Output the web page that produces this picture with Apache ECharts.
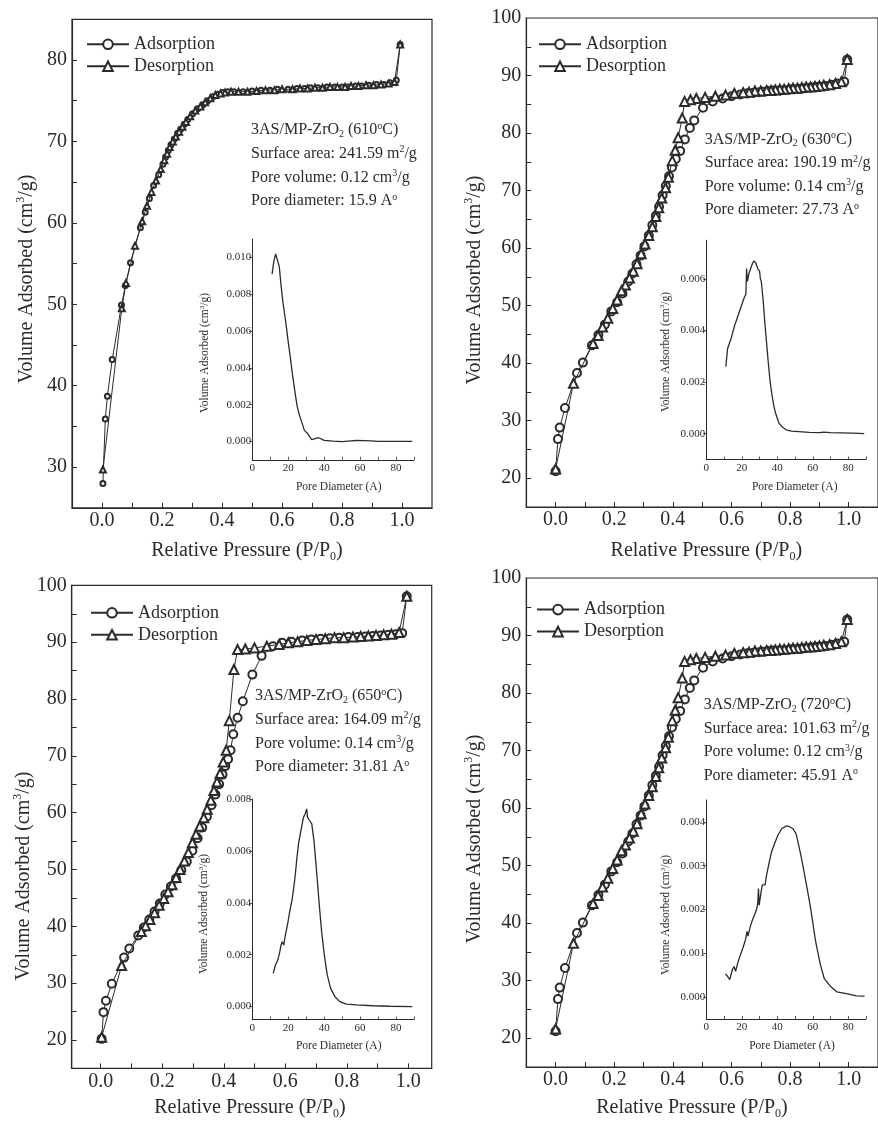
<!DOCTYPE html>
<html><head><meta charset="utf-8">
<script src="https://cdn.jsdelivr.net/npm/echarts/dist/echarts.min.js"></script>
<style>html,body{margin:0;padding:0;background:#fff}#c{width:878px;height:1121px}</style>
</head><body><div id="c"></div>
<script>
// ---------------- DATA ----------------
const ads610 = [[0.003,28.0],[0.011,35.9],[0.018,38.7],[0.034,43.2],[0.065,49.9],[0.078,52.3],[0.095,55.1],[0.128,59.4],[0.144,61.3],[0.158,63.0],[0.172,64.6],[0.189,65.9],[0.203,67.2],[0.212,68.1],[0.221,68.9],[0.23,69.6],[0.241,70.3],[0.252,71.0],[0.262,71.5],[0.274,72.1],[0.286,72.7],[0.302,73.4],[0.319,74.0],[0.336,74.5],[0.352,75.0],[0.369,75.5],[0.385,75.8],[0.402,76.0],[0.42,76.1],[0.44,76.1],[0.47,76.1],[0.5,76.2],[0.53,76.3],[0.56,76.3],[0.585,76.4],[0.62,76.4],[0.65,76.5],[0.675,76.5],[0.695,76.6],[0.72,76.6],[0.75,76.7],[0.775,76.7],[0.8,76.7],[0.82,76.7],[0.845,76.8],[0.865,76.8],[0.89,76.9],[0.915,77.0],[0.94,77.0],[0.96,77.2],[0.981,77.5],[0.994,81.9]];
const des610 = [[0.994,81.9],[0.975,77.3],[0.955,77.1],[0.93,77.0],[0.905,76.9],[0.88,76.9],[0.855,76.8],[0.83,76.8],[0.81,76.7],[0.785,76.7],[0.76,76.7],[0.735,76.6],[0.71,76.6],[0.685,76.5],[0.66,76.5],[0.635,76.4],[0.6,76.4],[0.575,76.3],[0.545,76.3],[0.515,76.2],[0.485,76.1],[0.455,76.1],[0.43,76.1],[0.41,76.0],[0.395,75.9],[0.378,75.7],[0.361,75.3],[0.344,74.8],[0.328,74.3],[0.311,73.8],[0.294,73.1],[0.28,72.4],[0.268,71.8],[0.257,71.2],[0.246,70.6],[0.236,70.0],[0.226,69.3],[0.217,68.5],[0.208,67.7],[0.196,66.6],[0.18,65.2],[0.165,63.8],[0.15,62.1],[0.134,60.2],[0.11,57.2],[0.08,52.6],[0.066,49.5],[0.003,29.7]];

const ads630 = [[0.000,21.2],[0.008,26.8],[0.014,28.8],[0.032,32.2],[0.073,38.3],[0.093,40.1],[0.124,43.1],[0.146,44.9],[0.168,46.7],[0.19,49.0],[0.21,50.6],[0.228,52.1],[0.248,54.2],[0.262,55.6],[0.276,57.2],[0.29,58.7],[0.303,60.3],[0.318,62.2],[0.33,64.0],[0.342,65.6],[0.353,67.2],[0.365,69.2],[0.376,70.8],[0.387,72.5],[0.397,74.0],[0.41,75.5],[0.425,76.9],[0.441,78.9],[0.458,80.9],[0.473,82.2],[0.503,84.4],[0.536,85.5],[0.57,86.0],[0.60,86.4],[0.63,86.7],[0.655,86.9],[0.675,87.0],[0.695,87.1],[0.71,87.2],[0.725,87.3],[0.745,87.4],[0.765,87.4],[0.78,87.5],[0.8,87.6],[0.815,87.6],[0.835,87.7],[0.85,87.8],[0.87,87.9],[0.885,88.0],[0.9,88.1],[0.92,88.2],[0.94,88.4],[0.96,88.6],[0.985,88.9],[0.995,92.8]];
const des630 = [[0.995,92.8],[0.975,88.9],[0.955,88.6],[0.935,88.4],[0.915,88.3],[0.9,88.2],[0.885,88.1],[0.87,88.0],[0.855,88.0],[0.84,87.9],[0.825,87.8],[0.81,87.8],[0.795,87.7],[0.78,87.6],[0.765,87.6],[0.75,87.5],[0.735,87.4],[0.72,87.4],[0.70,87.3],[0.68,87.3],[0.66,87.1],[0.64,87.0],[0.61,86.9],[0.58,86.6],[0.545,86.4],[0.51,86.2],[0.48,86.0],[0.46,85.8],[0.44,85.5],[0.432,82.6],[0.418,79.2],[0.408,77.0],[0.398,75.2],[0.385,72.3],[0.375,70.5],[0.362,68.7],[0.352,67.0],[0.342,65.5],[0.33,63.7],[0.318,62.2],[0.305,60.7],[0.292,59.0],[0.278,57.3],[0.265,56.0],[0.252,54.8],[0.238,53.6],[0.225,52.6],[0.21,51.0],[0.195,49.5],[0.178,47.8],[0.16,46.3],[0.145,44.8],[0.128,43.4],[0.061,36.5],[0.0,21.6]];

const ads650 = [[0.003,20.2],[0.009,24.9],[0.017,26.9],[0.036,29.9],[0.076,34.5],[0.093,36.1],[0.122,38.4],[0.14,39.8],[0.158,41.2],[0.175,42.6],[0.192,44.0],[0.21,45.6],[0.228,47.0],[0.245,48.4],[0.262,49.9],[0.28,51.4],[0.298,53.3],[0.315,55.5],[0.33,57.4],[0.345,59.3],[0.36,61.3],[0.373,63.2],[0.385,65.0],[0.396,66.7],[0.405,68.2],[0.414,69.4],[0.422,71.0],[0.431,73.8],[0.445,76.7],[0.462,79.6],[0.493,84.3],[0.523,87.6],[0.56,89.3],[0.59,89.9],[0.62,90.1],[0.655,90.3],[0.685,90.5],[0.715,90.6],[0.745,90.7],[0.775,90.8],[0.805,90.9],[0.835,90.9],[0.86,91.0],[0.885,91.1],[0.91,91.2],[0.935,91.3],[0.96,91.4],[0.98,91.6],[0.995,98.1]];
const des650 = [[0.995,98.1],[0.97,91.7],[0.945,91.4],[0.92,91.3],[0.895,91.2],[0.87,91.1],[0.845,91.0],[0.82,90.9],[0.79,90.8],[0.76,90.8],[0.73,90.6],[0.7,90.5],[0.67,90.3],[0.64,90.1],[0.61,89.9],[0.58,89.6],[0.54,89.3],[0.5,89.0],[0.47,88.8],[0.445,88.7],[0.433,85.2],[0.418,76.2],[0.408,71.0],[0.398,68.9],[0.388,66.9],[0.378,65.4],[0.368,63.9],[0.358,62.2],[0.346,60.6],[0.335,59.1],[0.322,57.6],[0.31,56.2],[0.298,54.7],[0.285,53.0],[0.272,51.5],[0.258,50.0],[0.245,48.6],[0.232,47.3],[0.219,46.1],[0.205,44.9],[0.19,43.7],[0.175,42.4],[0.16,41.2],[0.146,40.1],[0.132,39.1],[0.068,33.1],[0.003,20.5]];

// the 720 °C isotherm is drawn identical to the 630 °C one in the source figure
const ads720 = ads630;
const des720 = des630;

const psd610 = [[11,0.0091],[12,0.0098],[13,0.0102],[14,0.0101],[15,0.0095],[16,0.0085],[17,0.0076],[18,0.0069],[19,0.0062],[20,0.0054],[21,0.0047],[22,0.0039],[23,0.0032],[24,0.0025],[25,0.0019],[26,0.0015],[27,0.0012],[27.5,0.0013],[28,0.0009],[29,0.0006],[30,0.0005],[31,0.0004],[32,0.0003],[33,0.0001],[34,0.00012],[35,0.00015],[36,0.00018],[37,0.0002],[38,0.00015],[40,0.00006],[45,0.00002],[50,-0.00001],[55,0.00003],[58,0.00005],[62,0.00004],[66,0.00003],[70,0.0],[75,0.0],[80,0.0],[85,0.0],[89,0.0]];
const psd630 = [[11,0.0026],[12,0.0033],[14,0.0037],[16,0.0042],[18,0.0046],[20,0.0050],[21.5,0.0053],[22.3,0.0054],[22.7,0.0064],[23.2,0.0059],[24,0.0062],[25,0.0064],[26,0.0066],[27,0.0067],[28,0.0066],[29,0.0064],[30,0.0063],[30.5,0.0060],[31,0.0059],[32,0.0052],[33,0.0043],[34,0.0035],[35,0.0027],[36,0.0020],[37,0.0015],[38,0.0011],[39,0.0008],[40,0.0006],[41,0.0004],[43,0.00025],[45,0.00015],[48,0.0001],[52,0.00008],[58,0.00005],[64,0.00004],[66,0.00006],[70,0.00004],[76,0.00003],[82,0.00002],[86,0.00001],[89,0.0]];
const psd650 = [[11.6,0.00128],[12.9,0.0016],[14.2,0.00179],[15.3,0.00211],[16,0.00237],[16.7,0.0025],[17.5,0.00237],[18.4,0.00275],[19.7,0.0032],[20.8,0.00365],[22.1,0.0041],[23,0.00454],[23.9,0.00506],[24.8,0.0057],[25.7,0.00627],[26.7,0.00634],[27.6,0.00698],[28.5,0.0073],[29.4,0.00742],[30.1,0.00749],[30.3,0.00762],[30.7,0.0073],[31.6,0.0072],[33.1,0.00704],[34.4,0.00634],[35.8,0.00519],[37.3,0.0039],[38.6,0.00288],[40.1,0.00198],[41.7,0.00122],[43.6,0.0007],[46,0.00038],[48.7,0.00019],[52.4,0.00009],[57.9,0.00006],[67.1,0.00003],[76.3,0.00001],[89,0.0]];
const psd720 = [[10.7,0.00053],[11.9,0.00048],[13.2,0.0004],[14.7,0.00063],[15.6,0.0007],[16.5,0.00059],[18,0.00082],[19.3,0.00097],[20.6,0.00112],[22.1,0.00131],[23,0.0015],[23.5,0.00139],[24.8,0.00161],[26.1,0.00177],[27.6,0.00192],[28.5,0.00203],[29,0.00214],[29.4,0.00248],[29.8,0.0021],[30.9,0.00241],[31.6,0.00256],[32.2,0.0026],[33.1,0.00256],[34,0.00279],[35.3,0.00305],[36.8,0.00332],[38.6,0.00352],[40.4,0.0037],[42.6,0.00385],[45.2,0.00391],[46.9,0.00389],[48.7,0.00385],[50.6,0.00373],[53.3,0.00324],[56.1,0.00264],[58.8,0.00203],[61.6,0.00127],[64.3,0.00074],[66.5,0.00042],[69.9,0.00025],[73.5,0.00012],[79,0.00008],[84.6,0.00003],[89.2,0.00002]];

// tick / label values
const mainXLabels = [0, 0.2, 0.4, 0.6, 0.8, 1.0];
const mainXTicks = [0, 0.1, 0.2, 0.3, 0.4, 0.5, 0.6, 0.7, 0.8, 0.9, 1.0];
const y610Labels = [30, 40, 50, 60, 70, 80];
const y610Ticks = [30, 35, 40, 45, 50, 55, 60, 65, 70, 75, 80];
const yLabels = [20, 30, 40, 50, 60, 70, 80, 90, 100];
const yTicks = [20, 25, 30, 35, 40, 45, 50, 55, 60, 65, 70, 75, 80, 85, 90, 95];
const insetXLabels = [0, 20, 40, 60, 80];
const insetXTicks = [0, 10, 20, 30, 40, 50, 60, 70, 80, 90];
const inset610Y = [0, 0.002, 0.004, 0.006, 0.008, 0.010];
const inset630Y = [0, 0.002, 0.004, 0.006];
const inset650Y = [0, 0.002, 0.004, 0.006, 0.008];
const inset720Y = [0, 0.001, 0.002, 0.003, 0.004];

const seriesNames = ['Adsorption', 'Desorption'];
const notes610 = ['3AS/MP-ZrO|2| (610|o|C)', 'Surface area: 241.59 m|^2|/g', 'Pore volume: 0.12 cm|^3|/g', 'Pore diameter: 15.9 A|^o|'];
const notes630 = ['3AS/MP-ZrO|2| (630|o|C)', 'Surface area: 190.19 m|^2|/g', 'Pore volume: 0.14 cm|^3|/g', 'Pore diameter: 27.73 A|^o|'];
const notes650 = ['3AS/MP-ZrO|2| (650|o|C)', 'Surface area: 164.09 m|^2|/g', 'Pore volume: 0.14 cm|^3|/g', 'Pore diameter: 31.81 A|^o|'];
const notes720 = ['3AS/MP-ZrO|2| (720|o|C)', 'Surface area: 101.63 m|^2|/g', 'Pore volume: 0.12 cm|^3|/g', 'Pore diameter: 45.91 A|^o|'];

// ---------------- LAYOUT ----------------
const F = "'Liberation Serif','Times New Roman',serif";
const C = '#2b2b2b';

const panels = [
  {grid:{left:72,top:19.3,width:360,height:488.5}, x:[-0.1,1.1], y:[25,85], yLab:y610Labels, yTick:y610Ticks, sym:5, ads:ads610, des:des610,
   legend:[86,35.3], notes:notes610, note:[251,130,23.7], ytitle:[26.7,279], xtitle:[247,551],
   inset:{grid:{left:252.3,top:239.1,width:161.7,height:220.7}, y:[-0.001,0.011], yLab:inset610Y, data:psd610, ytitle:[205,353], xtitle:[338.7,486.5]}},
  {grid:{left:526.3,top:18,width:358.5,height:489}, x:[-0.1,1.1], y:[15,100], yLab:yLabels, yTick:yTicks, sym:8, ads:ads630, des:des630,
   legend:[538,35.3], notes:notes630, note:[704.7,139.5,23.5], ytitle:[474.7,280], xtitle:[706.3,551],
   inset:{grid:{left:706.3,top:240.2,width:159.7,height:219.3}, y:[-0.001,0.0075], yLab:inset630Y, data:psd630, ytitle:[665.5,352], xtitle:[794.7,486.5]}},
  {grid:{left:71.7,top:585.4,width:360,height:483}, x:[-0.0943,1.076], y:[15,100], yLab:yLabels, yTick:yTicks, sym:8, ads:ads650, des:des650,
   legend:[90,603.8], notes:notes650, note:[255,696,23.7], ytitle:[23.3,876], xtitle:[250,1108],
   inset:{grid:{left:252.3,top:799,width:161.7,height:220.5}, y:[-0.0005,0.008], yLab:inset650Y, data:psd650, ytitle:[204,914], xtitle:[338.7,1046]}},
  {grid:{left:526.3,top:578,width:358.5,height:489}, x:[-0.1,1.1], y:[15,100], yLab:yLabels, yTick:yTicks, sym:8, ads:ads720, des:des720,
   legend:[536,600.6], notes:notes720, note:[703.7,705,23.5], ytitle:[474.7,839], xtitle:[692,1108],
   inset:{grid:{left:706.3,top:800,width:159.7,height:219}, y:[-0.0005,0.0045], yLab:inset720Y, data:psd720, ytitle:[666,915], xtitle:[792,1046]}}
];

// "a|2|b|^3|c": |x| = subscript, |^x| or |o| = superscript
function richify(s, base) {
  const parts = s.split('|');
  let out = '';
  parts.forEach((p, i) => {
    if (!p) return;
    if (i % 2 === 0) out += '{' + base + '|' + p + '}';
    else if (p[0] === '^') out += '{sup|' + p.slice(1) + '}';
    else if (p === 'o') out += '{sup|o}';
    else out += '{sub|' + p + '}';
  });
  return out;
}
function richStyles(size) {
  const lh = Math.round(size * 1.15);
  const small = Math.round(size * 0.62);
  return {
    n: {fontSize:size, fontFamily:F, fill:C, lineHeight:lh},
    sup: {fontSize:small, fontFamily:F, fill:C, lineHeight:small, verticalAlign:'top'},
    sub: {fontSize:small, fontFamily:F, fill:C, lineHeight:small, verticalAlign:'bottom'}
  };
}

const mainGrid = [], mainX = [], mainY = [], insetGrid = [], insetX = [], insetY = [];
const series = [], legend = [], graphic = [];

panels.forEach((p, i) => {
  mainGrid.push(Object.assign({show:true, borderColor:C, borderWidth:1.2, backgroundColor:'transparent'}, p.grid));
  mainX.push({type:'value', gridIndex:i, min:p.x[0], max:p.x[1],
    axisLine:{show:true, onZero:false, lineStyle:{color:C, width:1.2}},
    axisTick:{show:true, inside:true, length:5, customValues:mainXTicks, lineStyle:{color:C, width:1}},
    axisLabel:{customValues:mainXLabels, formatter:v => v.toFixed(1), fontFamily:F, fontSize:20, color:C, margin:3},
    splitLine:{show:false}});
  mainY.push({type:'value', gridIndex:i, min:p.y[0], max:p.y[1],
    axisLine:{show:true, onZero:false, lineStyle:{color:C, width:1.2}},
    axisTick:{show:true, inside:true, length:5, customValues:p.yTick, lineStyle:{color:C, width:1}},
    axisLabel:{customValues:p.yLab, fontFamily:F, fontSize:20, color:C, margin:5},
    splitLine:{show:false}});
  series.push({type:'line', name:seriesNames[0], xAxisIndex:i, yAxisIndex:i, data:p.ads,
    symbol:'emptyCircle', symbolSize:p.sym, showAllSymbol:true, z:3,
    lineStyle:{color:C, width:1}, itemStyle:{color:C, borderWidth:1}});
  series.push({type:'line', name:seriesNames[1], xAxisIndex:i, yAxisIndex:i, data:p.des,
    symbol:'emptyTriangle', symbolSize:p.sym + 1, showAllSymbol:true, z:4,
    lineStyle:{color:C, width:1}, itemStyle:{color:C, borderWidth:1}});
  legend.push({left:p.legend[0], top:p.legend[1], orient:'vertical', selectedMode:false, padding:0,
    itemWidth:42, itemHeight:12, itemGap:4, data:seriesNames,
    itemStyle:{borderWidth:1},
    textStyle:{fontFamily:F, fontSize:18, color:C, lineHeight:18}});
  p.notes.forEach((t, k) => {
    graphic.push({type:'text', x:p.note[0], y:p.note[1] + k * p.note[2], z:10,
      style:{text:richify(t, 'n'), rich:richStyles(16), align:'left', verticalAlign:'middle'}});
  });
  graphic.push({type:'text', x:p.ytitle[0], y:p.ytitle[1], rotation:Math.PI / 2, z:10,
    style:{text:richify('Volume Adsorbed (cm|^3|/g)', 'n'), rich:richStyles(20), align:'center', verticalAlign:'middle'}});
  graphic.push({type:'text', x:p.xtitle[0], y:p.xtitle[1], z:10,
    style:{text:richify('Relative Pressure (P/P|0|)', 'n'), rich:richStyles(20), align:'center', verticalAlign:'middle'}});

  // inset
  const q = p.inset, gi = 4 + i;
  insetGrid.push(Object.assign({show:false}, q.grid));
  insetX.push({type:'value', gridIndex:gi, min:0, max:90,
    axisLine:{show:true, onZero:false, lineStyle:{color:C, width:1}},
    axisTick:{show:true, inside:true, length:3, customValues:insetXTicks, lineStyle:{color:C, width:0.8}},
    axisLabel:{customValues:insetXLabels, fontFamily:F, fontSize:11, color:C, margin:3},
    splitLine:{show:false}});
  insetY.push({type:'value', gridIndex:gi, min:q.y[0], max:q.y[1],
    axisLine:{show:true, onZero:false, lineStyle:{color:C, width:1}},
    axisTick:{show:true, inside:false, length:3, customValues:q.yLab, lineStyle:{color:C, width:0.8}},
    axisLabel:{customValues:q.yLab, formatter:v => v.toFixed(3), fontFamily:F, fontSize:11, color:C, margin:1},
    splitLine:{show:false}});
  series.push({type:'line', name:'PSD ' + i, xAxisIndex:gi, yAxisIndex:gi, data:q.data, symbol:'none', z:5,
    lineStyle:{color:C, width:1.3}});
  graphic.push({type:'text', x:q.ytitle[0], y:q.ytitle[1], rotation:Math.PI / 2, z:10,
    style:{text:richify('Volume Adsorbed (cm|^3|/g)', 'n'), rich:richStyles(11.5), align:'center', verticalAlign:'middle'}});
  graphic.push({type:'text', x:q.xtitle[0], y:q.xtitle[1], z:10,
    style:{text:'Pore Diameter (A)', fontFamily:F, fontSize:11.5, fill:C, align:'center', verticalAlign:'middle'}});
});

const chart = echarts.init(document.getElementById('c'), null, {renderer:'canvas'});
chart.setOption({animation:false, backgroundColor:'#fff',
  grid:mainGrid.concat(insetGrid), xAxis:mainX.concat(insetX), yAxis:mainY.concat(insetY),
  series, legend, graphic});
</script></body></html>
